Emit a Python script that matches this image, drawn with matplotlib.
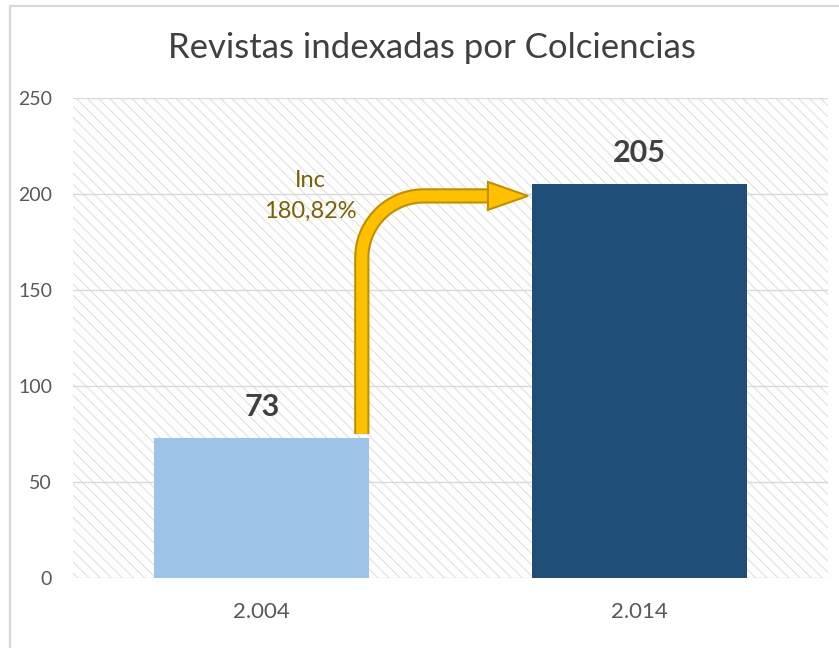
import numpy as np
import matplotlib
matplotlib.use("Agg")
import matplotlib.pyplot as plt
from matplotlib.patches import Rectangle, Polygon
import matplotlib.patheffects as pe

years = ["2.004", "2.014"]
revistas = [73, 205]
incremento = "Inc\n180,82%"
yticks = [0, 50, 100, 150, 200, 250]
bar_colors = ["#9DC3E6", "#1F4E79"]

plt.rcParams["font.family"] = ["Lato", "DejaVu Sans"]
plt.rcParams["hatch.linewidth"] = 0.8
plt.rcParams["hatch.color"] = "#E0E0E0"

W, H = 839, 648
fig = plt.figure(figsize=(W / 100, H / 100), dpi=100)

# outer border of the chart frame
fig.add_artist(Rectangle((10 / W, -0.1), 1.2, (H - 6) / H + 0.1, transform=fig.transFigure,
                         fill=False, edgecolor="#D9D9D9", linewidth=1.6))

ax_l, ax_r, ax_t, ax_b = 73, 828, 98, 578
ax = fig.add_axes([ax_l / W, 1 - ax_b / H, (ax_r - ax_l) / W, (ax_b - ax_t) / H])
ax.set_xlim(-0.5, 1.5)
ax.set_ylim(0, 250)

# hatched plot area
ax.add_patch(Rectangle((0, 0), 1, 1, transform=ax.transAxes, facecolor="white",
                       hatch="\\\\\\", edgecolor="#E0E0E0", linewidth=0, zorder=0))

for y in yticks:
    ax.axhline(y, color="#D9D9D9", linewidth=1.0, zorder=1)

x = np.arange(len(years))
width = 0.57
ax.bar(x, revistas, width=width, color=bar_colors, zorder=3)

for xi, v in zip(x, revistas):
    ax.text(xi, v + 9, str(v), ha="center", va="bottom", fontsize=22,
            fontweight="bold", color="#404040", zorder=5)

# curved arrow from bar 1 to bar 2
px_x = (ax_r - ax_l) / 2.0   # pixels per x unit
px_y = (ax_b - ax_t) / 250.0  # pixels per y unit
r = 62
x0 = x[0] + width / 2 - 0.02
y0 = revistas[0] + 2
y1 = revistas[1] - 6
x_tip = x[1] - width / 2 - 0.01
head_len = 40 / px_x
head_half = 14 / px_y
rx, ry = r / px_x, r / px_y
t = np.linspace(np.pi, np.pi / 2, 40)
arc_x = x0 + rx + rx * np.cos(t)
arc_y = y1 - ry + ry * np.sin(t)
path_x = np.concatenate([[x0], arc_x, [x_tip - head_len + 0.005]])
path_y = np.concatenate([[y0], arc_y, [y1]])
ax.plot(path_x, path_y, color="#FFC000", linewidth=8, solid_capstyle="butt", zorder=6,
        path_effects=[pe.Stroke(linewidth=11, foreground="#BF9000", capstyle="butt"), pe.Normal()])
ax.add_patch(Polygon([[x_tip - head_len, y1 + head_half], [x_tip, y1], [x_tip - head_len, y1 - head_half]],
                     closed=True, facecolor="#FFC000", edgecolor="#BF9000", linewidth=1.5, zorder=7))

ax.text(x0 - 51 / px_x, y1 + 0, incremento, ha="center", va="center", fontsize=17,
        color="#7F6000", linespacing=1.6, zorder=5)

for s in ["top", "right", "left", "bottom"]:
    ax.spines[s].set_visible(False)
ax.set_yticks(yticks)
ax.set_xticks(x)
ax.set_xticklabels(years)
ax.tick_params(axis="both", length=0, colors="#595959")
ax.tick_params(axis="y", pad=15, labelsize=14)
ax.tick_params(axis="x", pad=17, labelsize=16)

fig.text(432 / W, 1 - 48 / H, "Revistas indexadas por Colciencias", ha="center", va="center",
         fontsize=25, color="#404040")

fig.savefig("out.png", dpi=100)
